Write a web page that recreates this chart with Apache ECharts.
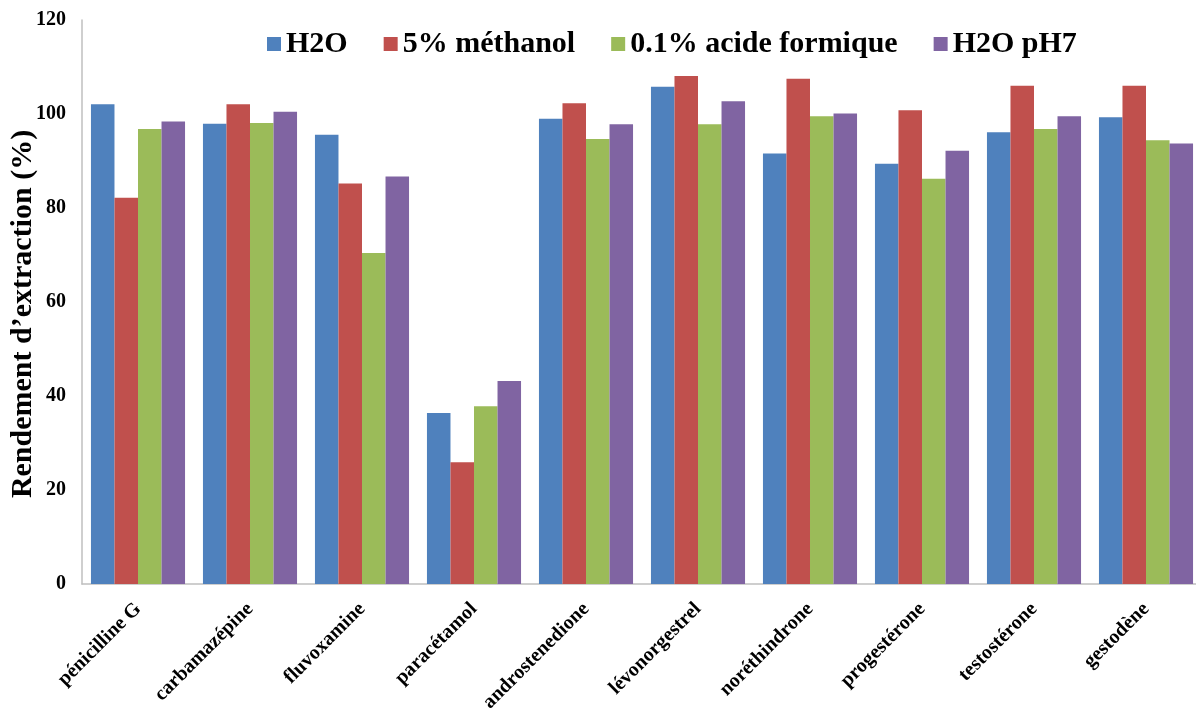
<!DOCTYPE html>
<html>
<head>
<meta charset="utf-8">
<script src="https://cdn.jsdelivr.net/npm/echarts@6/dist/echarts.min.js"></script>
<style>
html,body{margin:0;padding:0;background:#fff;}
#chart{width:1196px;height:711px;}
</style>
</head>
<body>
<div id="chart"></div>
<script>
const categories = ['pénicilline G','carbamazépine','fluvoxamine','paracétamol','androstenedione','lévonorgestrel','noréthindrone','progestérone','testostérone','gestodène'];
const seriesNames = ['H2O','5% méthanol','0.1% acide formique','H2O pH7'];
const h2o      = [102.1, 97.9, 95.6, 36.4, 99.0, 105.8, 91.6, 89.4, 96.1, 99.3];
const methanol = [82.2, 102.1, 85.2, 25.9, 102.3, 108.1, 107.5, 100.8, 106.0, 106.0];
const acide    = [96.8, 98.1, 70.4, 37.8, 94.7, 97.8, 99.5, 86.2, 96.8, 94.4];
const ph7      = [98.4, 100.5, 86.7, 43.2, 97.8, 102.7, 100.1, 92.2, 99.5, 93.7];
const yTicks = [0, 20, 40, 60, 80, 100, 120];
const colors = ['#4F81BD','#C0504D','#9BBB59','#8064A2'];

const font = '"Liberation Serif", "Times New Roman", serif';
const chart = echarts.init(document.getElementById('chart'));
const dataSets = [h2o, methanol, acide, ph7];
chart.setOption({
  animation: false,
  color: colors,
  legend: {
    left: 262, top: 24,
    itemWidth: 14, itemHeight: 14, itemGap: 36,
    icon: 'rect',
    textStyle: {fontFamily: font, fontWeight: 'bold', fontSize: 30, color: '#000'},
    data: seriesNames
  },
  grid: {left: 82, top: 20, width: 1120, height: 564, containLabel: false, outerBoundsMode: 'none'},
  xAxis: {
    type: 'category',
    data: categories,
    axisLine: {show: true, lineStyle: {color: '#BFBFBF', width: 1.5}},
    axisTick: {show: false},
    axisLabel: {rotate: 45, margin: 22, interval: 0, fontFamily: font, fontWeight: 'bold', fontSize: 20, color: '#000'}
  },
  yAxis: {
    type: 'value',
    min: yTicks[0], max: yTicks[yTicks.length-1], interval: 20,
    name: 'Rendement d\u2019extraction (%)',
    nameLocation: 'middle', nameGap: 44, nameMoveOverlap: false,
    nameTextStyle: {fontFamily: font, fontWeight: 'bold', fontSize: 30, color: '#000', padding: [0, 24, 0, 0]},
    axisLine: {show: true, lineStyle: {color: '#BFBFBF', width: 1.5}},
    axisTick: {show: false},
    splitLine: {show: false},
    axisLabel: {margin: 16, fontFamily: font, fontWeight: 'bold', fontSize: 20, color: '#000'}
  },
  series: seriesNames.map((n, i) => ({
    name: n, type: 'bar', data: dataSets[i],
    barGap: '0%', barCategoryGap: '16%'
  }))
});
</script>
</body>
</html>
